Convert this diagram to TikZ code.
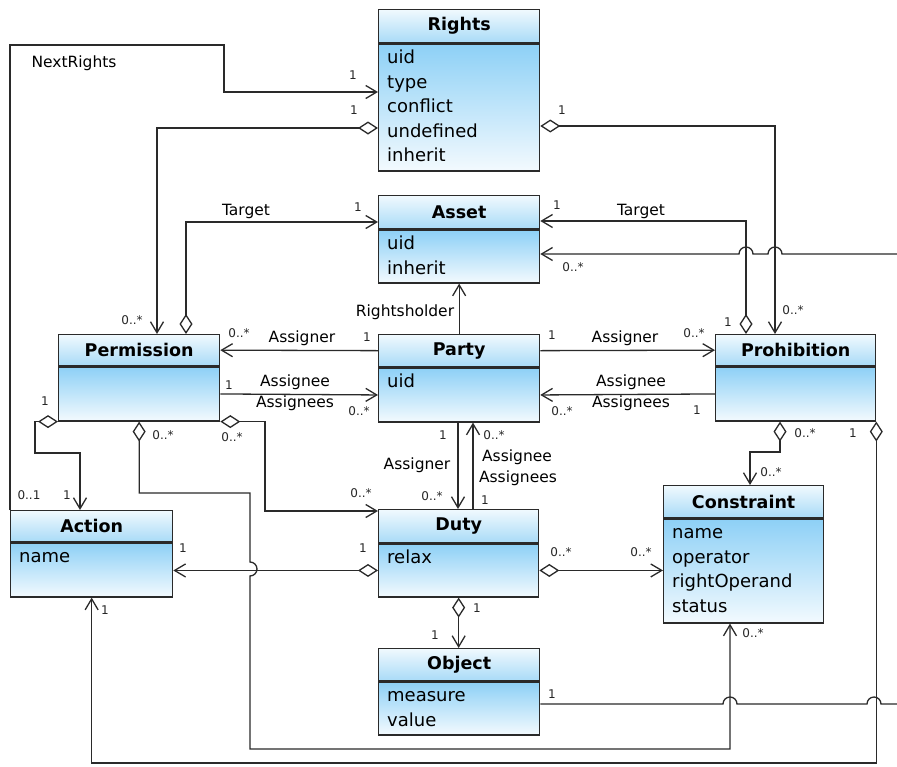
\documentclass[tikz,border=0pt]{standalone}
\usepackage{fontspec}
\setmainfont{DejaVu Sans}
\usetikzlibrary{arrows.meta,positioning}
\definecolor{linec}{HTML}{2A2A2A}
\definecolor{hdtop}{HTML}{F0F9FE}
\definecolor{hdbot}{HTML}{A9DBF7}
\definecolor{bdtop}{HTML}{8DD0F6}
\definecolor{bdbot}{HTML}{F3FAFE}
\newcommand\attrfont{\fontsize{18}{24.5}\selectfont}
\newcommand\titlefont{\bfseries\fontsize{17.5}{21}\selectfont}
\newcommand\labfont{\fontsize{15.5}{21.5}\selectfont}
\newcommand\multfont{\fontsize{12}{14}\selectfont}
\tikzset{
  head/.style={draw=linec, line width=1.3pt, top color=hdtop, bottom color=hdbot, font=\titlefont, inner sep=0pt, anchor=north west},
  body/.style={draw=linec, line width=1.3pt, top color=bdtop, bottom color=bdbot, inner sep=0pt},
  attrs/.style={anchor=north west, align=left, inner sep=0pt, font=\attrfont},
  lab/.style={font=\labfont, inner sep=0pt},
  mult/.style={font=\multfont, inner sep=0pt, text=black!85},
  arr/.style={draw=linec, line width=1.3pt, -{Straight Barb[length=11pt,width=13pt]}},
  agg/.style={draw=linec, line width=1.3pt, {Diamond[fill=white,length=20pt,width=13pt]}-{Straight Barb[length=11pt,width=13pt]}},
  link/.style={draw=linec, line width=1.3pt}
}
\begin{document}
\begin{tikzpicture}[x=1pt, y=-1pt]
    \useasboundingbox (0,0) rectangle (897,766);

    \node[head, minimum width=161pt, minimum height=33pt] at (378,9) (rights) {Rights};
    \node[body, minimum width=161pt, minimum height=127pt, below=0pt of rights] (rightsA) {};
    \node[attrs] at ([shift={(9,3)}]rightsA.north west) (rightsT) {\strut uid\\type\\conflict\\undefined\\inherit};

    \node[head, minimum width=161pt, minimum height=33pt] at (378,195) (asset) {Asset};
    \node[body, minimum width=161pt, minimum height=53pt, below=0pt of asset] (assetA) {};
    \node[attrs] at ([shift={(9,3)}]assetA.north west) (assetT) {\strut uid\\inherit};

    \node[head, minimum width=161pt, minimum height=31pt] at (58,334) (perm) {Permission};
    \node[body, minimum width=161pt, minimum height=54pt, below=0pt of perm] (permA) {};

    \node[head, minimum width=161pt, minimum height=32pt] at (378,334) (party) {Party};
    \node[body, minimum width=161pt, minimum height=54pt, below=0pt of party] (partyA) {};
    \node[attrs] at ([shift={(9,3)}]partyA.north west) (partyT) {\strut uid};

    \node[head, minimum width=160pt, minimum height=31pt] at (715,334) (prohib) {Prohibition};
    \node[body, minimum width=160pt, minimum height=54pt, below=0pt of prohib] (prohibA) {};

    \node[head, minimum width=162pt, minimum height=31pt] at (10,510) (action) {Action};
    \node[body, minimum width=162pt, minimum height=54pt, below=0pt of action] (actionA) {};
    \node[attrs] at ([shift={(9,3)}]actionA.north west) (actionT) {\strut name};

    \node[head, minimum width=160pt, minimum height=33pt] at (378,509) (duty) {Duty};
    \node[body, minimum width=160pt, minimum height=53pt, below=0pt of duty] (dutyA) {};
    \node[attrs] at ([shift={(9,3)}]dutyA.north west) (dutyT) {\strut relax};

    \node[head, minimum width=160pt, minimum height=32pt] at (663,485) (constraint) {Constraint};
    \node[body, minimum width=160pt, minimum height=104pt, below=0pt of constraint] (constraintA) {};
    \node[attrs] at ([shift={(9,3)}]constraintA.north west) (constraintT) {\strut name\\operator\\rightOperand\\status};

    \node[head, minimum width=161pt, minimum height=32pt] at (378,648) (object) {Object};
    \node[body, minimum width=161pt, minimum height=53pt, below=0pt of object] (objectA) {};
    \node[attrs] at ([shift={(9,3)}]objectA.north west) (objectT) {\strut measure\\value};

    \coordinate (offA) at (897,254);
    \coordinate (offB) at (897,704);

    \draw[arr] (action.north west) |- (224,45) |- (rightsA.west |- 0,92);
    \draw[agg] (rightsA.west |- 0,128) -| (perm.north -| 157,0);
    \draw[agg] (rightsA.east |- 0,126) -| (prohib.north -| 775,0);
    \draw[agg] (perm.north -| 186,0) |- (asset.west |- 0,222);
    \draw[agg] (prohib.north -| 746,0) |- (asset.east |- 0,221);
    \draw[arr] (offA) -- (782,254) arc[start angle=0,end angle=180,radius=7pt] -- (753,254) arc[start angle=0,end angle=180,radius=7pt] -- (assetA.east |- offA);
    \draw[arr] (party.north) -- (assetA.south);
    \draw[arr] (party.west) -- (perm.east);
    \draw[arr] (permA.east) -- (partyA.west);
    \draw[arr] (party.east) -- (prohib.west);
    \draw[arr] (prohibA.west) -- (partyA.east);
    \draw[arr] (partyA.south -| 458,0) -- (duty.north -| 458,0);
    \draw[arr] (duty.north -| 473,0) -- (partyA.south -| 473,0);
    \draw[agg] (permA.south west) -- ++(-23,0) |- (80,453) -- (action.north -| 80,0);
    \draw[agg] (permA.south east) -| (265,511) -- (duty.west |- 0,511);
    \draw[agg] (permA.south) |- (250,493) -- (250,562) arc[start angle=90,end angle=-90,radius=7pt] -- (250,749) -| (constraintA.south -| 730,0);
    \draw[agg] (dutyA.west) -- (dutyA.west -| actionA.east);
    \draw[agg] (dutyA.east) -- (dutyA.east -| constraintA.west);
    \draw[agg] (dutyA.south) -- (dutyA.south |- object.north);
    \draw[agg] (prohibA.south -| 780,0) |- (750,452) -- (constraint.north -| 750,0);
    \draw[agg] (prohibA.south east) |- (actionA.south |- 0,763) -- (actionA.south);
    \draw[link] (objectA.east |- offB) -- (723,704) arc[start angle=180,end angle=0,radius=7pt] -- (867,704) arc[start angle=180,end angle=0,radius=7pt] -- (offB);

    \node[lab] at (74,63) (lNext) {NextRights};
    \node[lab] at (246,211) (lTargetL) {Target};
    \node[lab] at (641,211) (lTargetR) {Target};
    \node[lab] at (405,312) (lHolder) {Rightsholder};
    \node[lab] at (302,338) (lAsgnL) {Assigner};
    \node[lab] at (295,382) (lAsgeL) {Assignee};
    \node[lab] at (295,403) (lAsgsL) {Assignees};
    \node[lab] at (625,338) (lAsgnR) {Assigner};
    \node[lab] at (631,382) (lAsgeR) {Assignee};
    \node[lab] at (631,403) (lAsgsR) {Assignees};
    \node[lab] at (417,465) (lAsgnD) {Assigner};
    \node[lab] at (517,457) (lAsgeD) {Assignee};
    \node[lab] at (518,478) (lAsgsD) {Assignees};

    \node[mult] at (353,75) (mNextR) {1};
    \node[mult] at (29,495) (mNextA) {0..1};
    \node[mult] at (354,110) (mRP1) {1};
    \node[mult] at (132,320) (mRP2) {0..*};
    \node[mult] at (562,110) (mRH1) {1};
    \node[mult] at (793,310) (mRH2) {0..*};
    \node[mult] at (358,207) (mTL1) {1};
    \node[mult] at (557,205) (mTR1) {1};
    \node[mult] at (728,322) (mTR2) {1};
    \node[mult] at (573,267) (mOffA) {0..*};
    \node[mult] at (239,333) (mAsgnL2) {0..*};
    \node[mult] at (367,337) (mAsgnL1) {1};
    \node[mult] at (229,385) (mAsgeL1) {1};
    \node[mult] at (359,411) (mAsgeL2) {0..*};
    \node[mult] at (552,335) (mAsgnR1) {1};
    \node[mult] at (694,333) (mAsgnR2) {0..*};
    \node[mult] at (562,411) (mAsgeR2) {0..*};
    \node[mult] at (697,410) (mAsgeR1) {1};
    \node[mult] at (443,435) (mAsgnD1) {1};
    \node[mult] at (432,496) (mAsgnD2) {0..*};
    \node[mult] at (494,435) (mAsgeD2) {0..*};
    \node[mult] at (485,500) (mAsgeD1) {1};
    \node[mult] at (45,401) (mPA1) {1};
    \node[mult] at (67,495) (mPA2) {1};
    \node[mult] at (163,435) (mPC1) {0..*};
    \node[mult] at (753,633) (mPC2) {0..*};
    \node[mult] at (232,437) (mPD1) {0..*};
    \node[mult] at (361,493) (mPD2) {0..*};
    \node[mult] at (805,433) (mHC1) {0..*};
    \node[mult] at (771,472) (mHC2) {0..*};
    \node[mult] at (853,433) (mHA1) {1};
    \node[mult] at (105,610) (mHA2) {1};
    \node[mult] at (363,548) (mDA1) {1};
    \node[mult] at (183,548) (mDA2) {1};
    \node[mult] at (561,552) (mDC1) {0..*};
    \node[mult] at (641,552) (mDC2) {0..*};
    \node[mult] at (477,608) (mDO1) {1};
    \node[mult] at (435,635) (mDO2) {1};
    \node[mult] at (552,694) (mOffB) {1};
\end{tikzpicture}
\end{document}
